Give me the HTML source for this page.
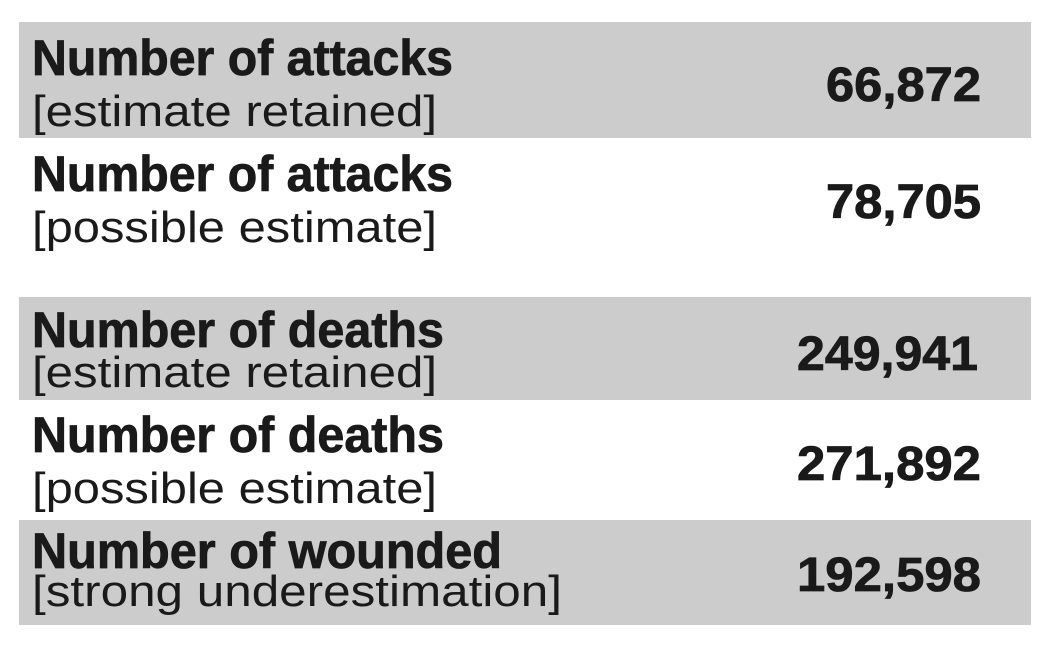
<!DOCTYPE html>
<html><head><meta charset="utf-8"><style>html,body{margin:0;padding:0;background:#fff}svg{display:block}</style></head>
<body>
<svg width="1052" height="646" xmlns="http://www.w3.org/2000/svg" font-family="Liberation Sans, sans-serif" fill="#1a1a1a">
<rect x="0" y="0" width="1052" height="646" fill="#fff"/>
<rect x="19" y="22" width="1012" height="116" fill="#cccccc"/>
<rect x="19" y="297" width="1012" height="103" fill="#cccccc"/>
<rect x="19" y="520" width="1012" height="105" fill="#cccccc"/>
<g font-weight="bold" font-size="50" stroke="#1a1a1a" stroke-width="0.8">
<text x="32" y="75" textLength="421" lengthAdjust="spacingAndGlyphs">Number of attacks</text>
<text x="32" y="191" textLength="421" lengthAdjust="spacingAndGlyphs">Number of attacks</text>
<text x="32" y="347" textLength="412" lengthAdjust="spacingAndGlyphs">Number of deaths</text>
<text x="32" y="452" textLength="412" lengthAdjust="spacingAndGlyphs">Number of deaths</text>
<text x="32" y="568" textLength="470" lengthAdjust="spacingAndGlyphs">Number of wounded</text>
</g>
<g font-size="44">
<text x="32" y="126" textLength="405" lengthAdjust="spacingAndGlyphs">[estimate retained]</text>
<text x="32" y="242" textLength="405" lengthAdjust="spacingAndGlyphs">[possible estimate]</text>
<text x="32" y="387" textLength="405" lengthAdjust="spacingAndGlyphs">[estimate retained]</text>
<text x="32" y="503" textLength="405" lengthAdjust="spacingAndGlyphs">[possible estimate]</text>
<text x="32" y="606" textLength="530" lengthAdjust="spacingAndGlyphs">[strong underestimation]</text>
</g>
<g font-weight="bold" font-size="48" stroke="#1a1a1a" stroke-width="0.8">
<text x="826" y="101" textLength="155" lengthAdjust="spacingAndGlyphs">66,872</text>
<text x="826" y="218" textLength="155" lengthAdjust="spacingAndGlyphs">78,705</text>
<text x="797" y="370" textLength="181" lengthAdjust="spacingAndGlyphs">249,941</text>
<text x="797" y="480" textLength="184" lengthAdjust="spacingAndGlyphs">271,892</text>
<text x="797" y="591" textLength="184" lengthAdjust="spacingAndGlyphs">192,598</text>
</g>
</svg>
</body></html>
